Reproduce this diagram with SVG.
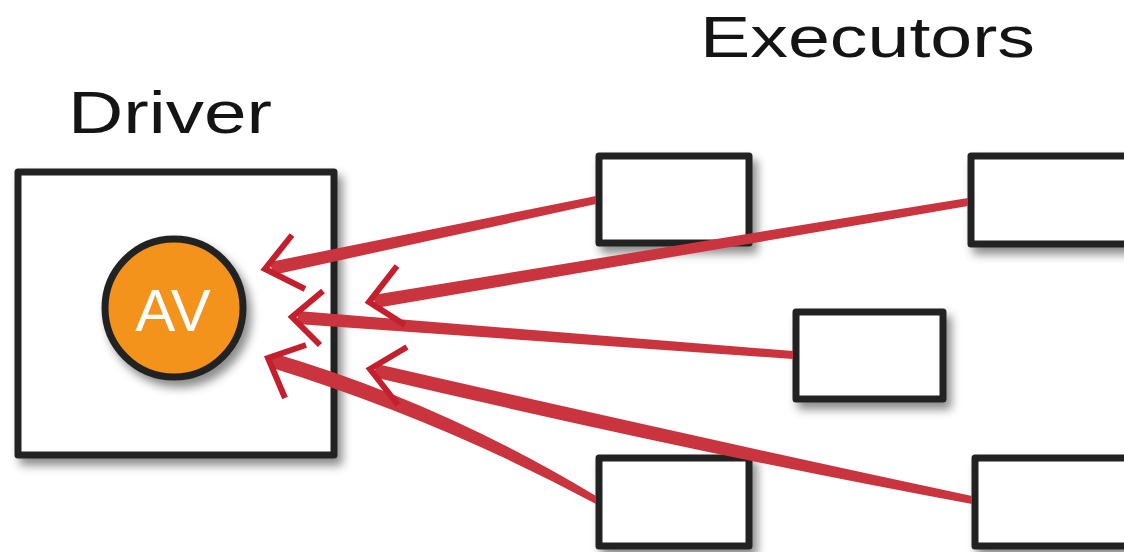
<svg xmlns="http://www.w3.org/2000/svg" width="1124" height="552" viewBox="0 0 1124 552">
<style>
.lbl{font-family:"Liberation Sans",Arial,sans-serif;fill:#141414}
.box{fill:#fff;stroke:#222;stroke-width:7;stroke-linejoin:round}
.wire{fill:#c9343f}
.head{fill:none;stroke:#c41f2c;stroke-width:6;stroke-linecap:butt;stroke-linejoin:miter}
</style>
<defs>
<filter id="sh" x="-20%" y="-20%" width="150%" height="150%">
<feDropShadow dx="5" dy="7" stdDeviation="5" flood-color="#000" flood-opacity="0.45"/>
</filter>
</defs>
<rect width="1124" height="552" fill="#fff"/>
<text class="lbl" x="68" y="133" font-size="60" textLength="204" lengthAdjust="spacingAndGlyphs">Driver</text>
<text class="lbl" x="700" y="57" font-size="58" textLength="335" lengthAdjust="spacingAndGlyphs">Executors</text>
<g id="driver">
<rect class="box" x="18" y="172" width="316" height="283" filter="url(#sh)"/>
</g>
<g id="av">
<circle cx="174" cy="308" r="69" fill="#f3931f" stroke="#222" stroke-width="7" filter="url(#sh)"/>
<text x="173" y="331" font-family="Liberation Sans, Arial, sans-serif" font-size="60" fill="#fff" text-anchor="middle">AV</text>
</g>
<g id="executor1"><rect class="box" x="599" y="156" width="150" height="87" filter="url(#sh)"/></g>
<g id="executor2"><rect class="box" x="971" y="156" width="160" height="88" filter="url(#sh)"/></g>
<g id="executor3"><rect class="box" x="796" y="312" width="147" height="87" filter="url(#sh)"/></g>
<g id="executor4"><rect class="box" x="599" y="458" width="150" height="88" filter="url(#sh)"/></g>
<g id="executor5"><rect class="box" x="975" y="458" width="160" height="88" filter="url(#sh)"/></g>
<g id="connectors">
<path class="wire" d="M273,275 L596,204 L596,196 L270,262 Z"/>
<path class="wire" d="M376,308 L968,206 L968,198 L373,295 Z"/>
<path class="wire" d="M297,324 L793,359 L793,351 L298,311 Z"/>
<path class="wire" d="M273,353 Q440,402 596,496 L596,504 Q440,420 269,367 Z"/>
<path class="wire" d="M377,364 Q700,438 972,496 L972,504 Q700,454 373,377 Z"/>
<polyline class="head" points="292,235 265,269 305,289"/>
<polyline class="head" points="397,266 369,302 405,325"/>
<polyline class="head" points="323,291 292,317 320,345"/>
<polyline class="head" points="306,345 268,358 285,398"/>
<polyline class="head" points="407,347 370,369 398,405"/>
</g>
</svg>
